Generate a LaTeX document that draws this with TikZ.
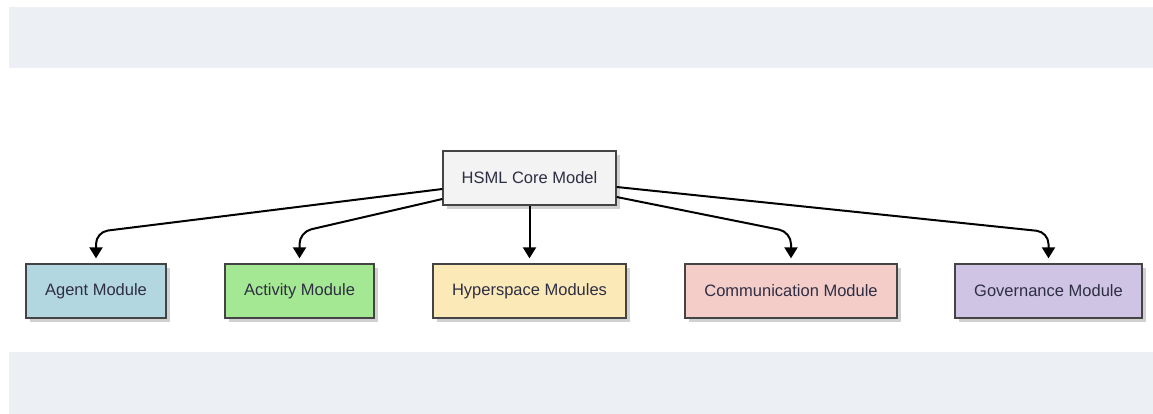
\documentclass[tikz,border=0pt]{standalone}
\usepackage{fontspec}
\setmainfont{Liberation Sans}
\usetikzlibrary{arrows.meta,calc,shadows}
\definecolor{band}{HTML}{ECF0F4}
\definecolor{txt}{HTML}{2E2E44}
\definecolor{edge}{HTML}{444444}
\definecolor{corefill}{HTML}{F3F3F3}
\definecolor{agentfill}{HTML}{B3D7E0}
\definecolor{actfill}{HTML}{A5E893}
\definecolor{hyperfill}{HTML}{FBEAB8}
\definecolor{commfill}{HTML}{F4CDC8}
\definecolor{govfill}{HTML}{D0C4E4}
\tikzset{
  x=1pt,y=-1pt,
  modbox/.style={draw=edge, line width=1.3pt, minimum height=54pt, inner sep=0pt,
     text=txt, font=\fontsize{16.5}{20}\selectfont,
     drop shadow={shadow xshift=4pt, shadow yshift=-4pt, fill=black!18, opacity=1}},
  conn/.style={line width=2pt, black, rounded corners=12pt,
     -{Triangle[length=11pt,width=13pt]}, shorten >=5pt},
}
\begin{document}
\begin{tikzpicture}
\useasboundingbox (0,0) rectangle (1153,414);
\fill[band] (9,7) rectangle (1153,68);
\fill[band] (9,352) rectangle (1153,414);

\node[modbox, fill=corefill, minimum width=173pt] (core) at (529.5,178) {HSML Core Model};
\node[modbox, fill=agentfill, minimum width=140pt] (agent) at (96,291) {Agent Module};
\node[modbox, fill=actfill, minimum width=149pt] (act) at (299.5,291) {Activity Module};
\node[modbox, fill=hyperfill, minimum width=193pt] (hyper) at (529.5,291) {Hyperspace Modules};
\node[modbox, fill=commfill, minimum width=212pt] (comm) at (791,291) {Communication Module};
\node[modbox, fill=govfill, minimum width=187pt] (gov) at (1048.5,291) {Governance Module};

\coordinate (cA) at ($(core.west)+(0,11)$);
\coordinate (cB) at ($(core.west)+(0,21)$);
\coordinate (cC) at ($(core.east)+(0,19)$);
\coordinate (cD) at ($(core.east)+(0,9)$);

\draw[conn] (cA) -- (agent.north |- 0,232) -- (agent.north);
\draw[conn] (cB) -- (act.north |- 0,232) -- (act.north);
\draw[conn] (core.south) -- (hyper.north);
\draw[conn] (cC) -- (comm.north |- 0,232) -- (comm.north);
\draw[conn] (cD) -- (gov.north |- 0,232) -- (gov.north);
\end{tikzpicture}
\end{document}
